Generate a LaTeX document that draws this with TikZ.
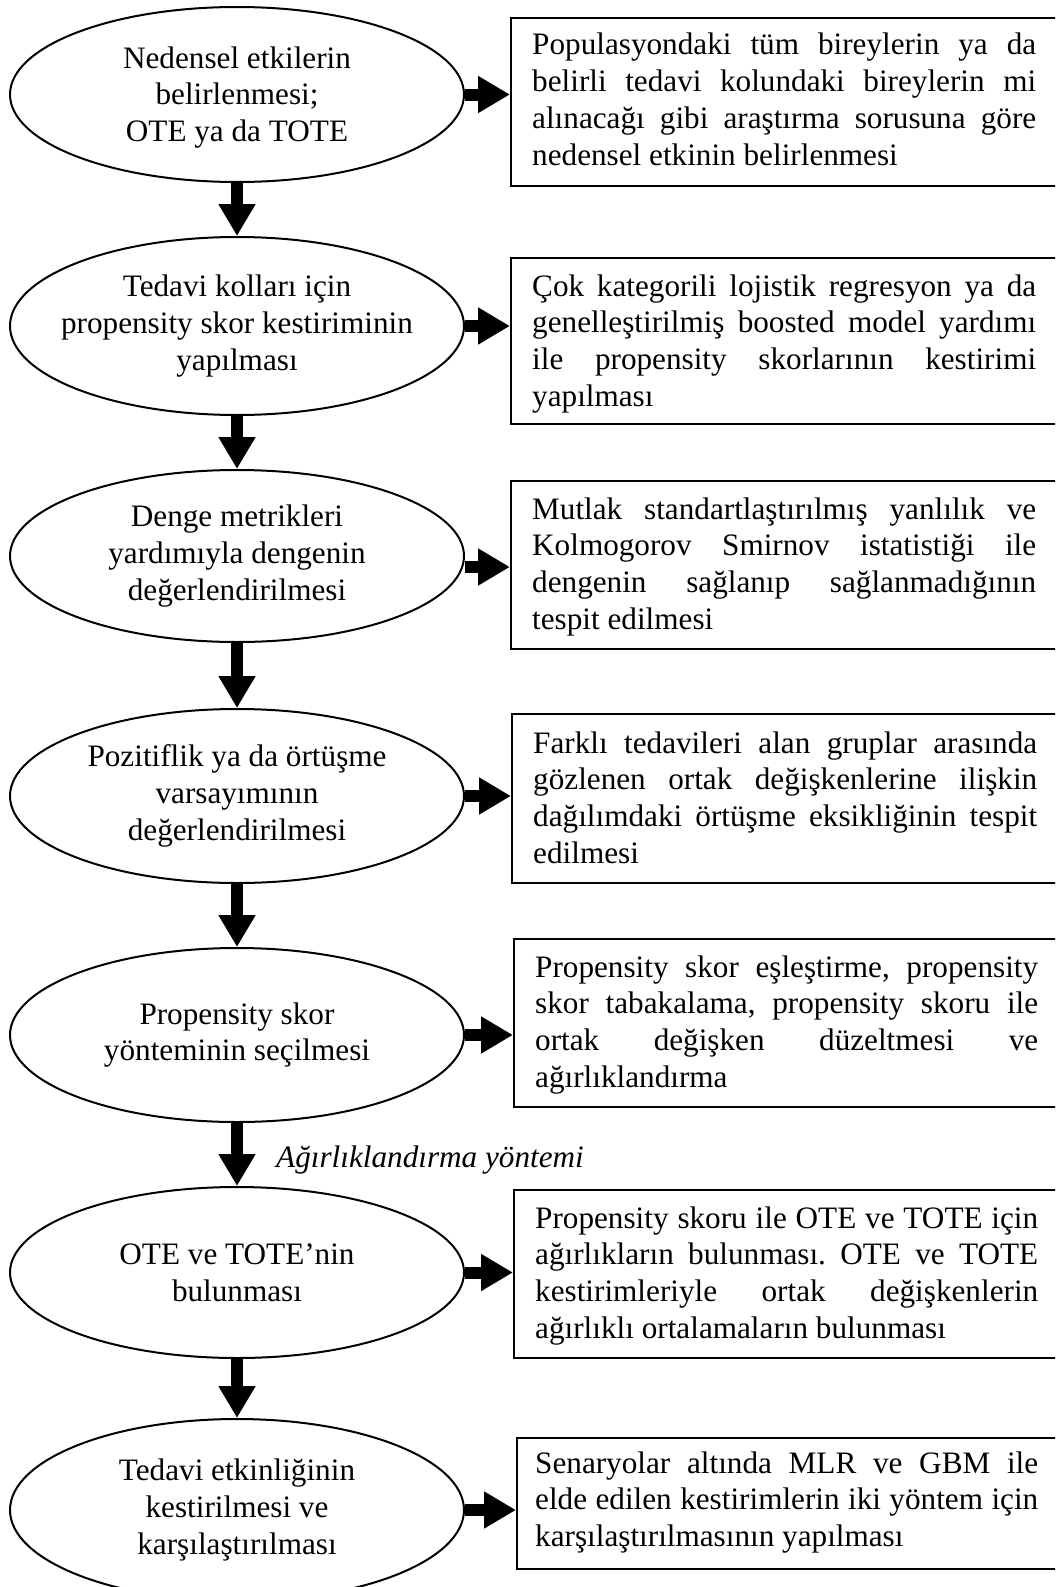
\documentclass[tikz,border=0pt]{standalone}
\usepackage{fontspec}
\setmainfont{Liberation Serif}
\usetikzlibrary{shapes.geometric,arrows.meta}
\newcommand{\jl}[1]{\makebox[\linewidth][s]{#1}}
\frenchspacing
\begin{document}
\begin{tikzpicture}[x=1pt,y=-1pt,
  ell/.style={ellipse, draw, line width=2pt, inner sep=0pt, minimum width=454pt},
  bx/.style={rectangle, draw, line width=2pt, inner sep=0pt, anchor=north west, minimum width=580pt},
  etxt/.style={align=center, inner sep=0pt, font=\fontsize{31.2}{36.7}\selectfont},
  btxt/.style={anchor=base west, inner sep=0pt, font=\fontsize{31.2}{36.7}\selectfont},
  ltxt/.style={anchor=base west, inner sep=0pt, font=\fontsize{31.2}{36.7}\selectfont\itshape},
  barrow/.style={line width=12pt, -{Triangle[length=32pt,width=35pt]}}
]
\clip (0,0) rectangle (1055,1587);

% ellipses
\node[ell, minimum height=175pt] (e1) at (237,94.5) {};
\node[ell, minimum height=178pt] (e2) at (237,326) {};
\node[ell, minimum height=172pt] (e3) at (237,556) {};
\node[ell, minimum height=174pt] (e4) at (237,796) {};
\node[ell, minimum height=174pt] (e5) at (237,1035) {};
\node[ell, minimum height=171pt] (e6) at (237,1272.5) {};
\node[ell, minimum height=182pt] (e7) at (237,1510) {};

\node[etxt] (et1) at ([yshift=-3pt]e1.center) {Nedensel etkilerin\\belirlenmesi;\\OTE ya da TOTE};
\node[etxt] (et2) at (e2.center) {Tedavi kolları için\\propensity skor kestiriminin\\yapılması};
\node[etxt] (et3) at (e3.center) {Denge metrikleri\\yardımıyla dengenin\\değerlendirilmesi};
\node[etxt] (et4) at (e4.center) {Pozitiflik ya da örtüşme\\varsayımının\\değerlendirilmesi};
\node[etxt] (et5) at (e5.center) {Propensity skor\\yönteminin seçilmesi};
\node[etxt] (et6) at (e6.center) {OTE ve TOTE’nin\\bulunması};
\node[etxt] (et7) at (e7.center) {Tedavi etkinliğinin\\kestirilmesi ve\\karşılaştırılması};

% boxes
\node[bx, minimum height=168pt] (b1) at (510,17) {};
\node[bx, minimum height=166pt] (b2) at (510,257) {};
\node[bx, minimum height=168pt] (b3) at (510,480) {};
\node[bx, minimum height=169pt] (b4) at (511,713) {};
\node[bx, minimum height=168pt] (b5) at (513,938) {};
\node[bx, minimum height=168pt] (b6) at (513,1189) {};
\node[bx, minimum height=131pt] (b7) at (516,1437) {};

\node[btxt] (bt1) at (532,55) {\parbox[t]{504pt}{%
\jl{Populasyondaki tüm bireylerin ya da}\\
\jl{belirli tedavi kolundaki bireylerin mi}\\
\jl{alınacağı gibi araştırma sorusuna göre}\\
nedensel etkinin belirlenmesi}};
\node[btxt] (bt2) at (532,296) {\parbox[t]{504pt}{%
\jl{Çok kategorili lojistik regresyon ya da}\\
\jl{genelleştirilmiş boosted model yardımı}\\
\jl{ile propensity skorlarının kestirimi}\\
yapılması}};
\node[btxt] (bt3) at (532,519) {\parbox[t]{504pt}{%
\jl{Mutlak standartlaştırılmış yanlılık ve}\\
\jl{Kolmogorov Smirnov istatistiği ile}\\
\jl{dengenin sağlanıp sağlanmadığının}\\
tespit edilmesi}};
\node[btxt] (bt4) at (533,753) {\parbox[t]{504pt}{%
\jl{Farklı tedavileri alan gruplar arasında}\\
\jl{gözlenen ortak değişkenlerine ilişkin}\\
\jl{dağılımdaki örtüşme eksikliğinin tespit}\\
edilmesi}};
\node[btxt] (bt5) at (535,977) {\parbox[t]{503pt}{%
\jl{Propensity skor eşleştirme, propensity}\\
\jl{skor tabakalama, propensity skoru ile}\\
\jl{ortak değişken düzeltmesi ve}\\
ağırlıklandırma}};
\node[btxt] (bt6) at (535,1228) {\parbox[t]{503pt}{%
\jl{Propensity skoru ile OTE ve TOTE için}\\
\jl{ağırlıkların bulunması. OTE ve TOTE}\\
\jl{kestirimleriyle ortak değişkenlerin}\\
ağırlıklı ortalamaların bulunması}};
\node[btxt] (bt7) at (535,1473) {\parbox[t]{503pt}{%
\jl{Senaryolar altında MLR ve GBM ile}\\
\jl{elde edilen kestirimlerin iki yöntem için}\\
karşılaştırılmasının yapılması}};

% down arrows
\draw[barrow] (e1.south) -- (e2.north);
\draw[barrow] (e2.south) -- (e3.north);
\draw[barrow] (e3.south) -- (e4.north);
\draw[barrow] (e4.south) -- (e5.north);
\draw[barrow] (e5.south) -- (e6.north);
\draw[barrow] (e6.south) -- (e7.north);

\node[ltxt] (lbl) at (276,1167) {Ağırlıklandırma yöntemi};

% right arrows
\coordinate (a3) at ([yshift=-11pt]e3.east);
\draw[barrow] (e1.east) -- (e1.east -| b1.west);
\draw[barrow] (e2.east) -- (e2.east -| b2.west);
\draw[barrow] (a3) -- (a3 -| b3.west);
\draw[barrow] (e4.east) -- (e4.east -| b4.west);
\draw[barrow] (e5.east) -- (e5.east -| b5.west);
\draw[barrow] (e6.east) -- (e6.east -| b6.west);
\draw[barrow] (e7.east) -- (e7.east -| b7.west);
\end{tikzpicture}
\end{document}
